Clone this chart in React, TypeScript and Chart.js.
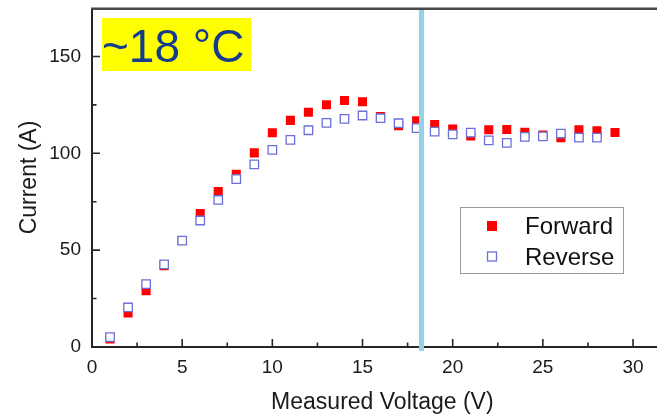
import React, { useEffect, useRef } from 'react';
import { Chart, registerables } from 'chart.js';

Chart.register(...registerables);

// ---- Data ----
const forwardVoltage = [1, 2, 3, 4, 5, 6, 7, 8, 9, 10, 11, 12, 13, 14, 15, 16, 17, 18, 19, 20, 21, 22, 23, 24, 25, 26, 27, 28, 29];
const forwardCurrent = [4.2, 17.6, 29.1, 42, 55, 68.9, 80.2, 89.2, 100.2, 110.6, 117, 121.2, 125.1, 127.3, 126.6, 119, 114.2, 116.8, 114.8, 112.5, 108.9, 112.1, 112.3, 110.8, 109.4, 108, 112.1, 111.6, 110.7];

const reverseVoltage = [1, 2, 3, 4, 5, 6, 7, 8, 9, 10, 11, 12, 13, 14, 15, 16, 17, 18, 19, 20, 21, 22, 23, 24, 25, 26, 27, 28];
const reverseCurrent = [5.1, 20.4, 32.5, 42.7, 54.9, 65.3, 75.9, 86.7, 94.3, 101.8, 106.9, 111.9, 115.7, 117.8, 119.5, 118.1, 115.5, 113, 111.2, 109.8, 110.7, 106.7, 105.4, 108.5, 108.7, 110.2, 108.1, 108.1];

const seriesNames = ['Forward', 'Reverse'];
const xTickValues = [0, 5, 10, 15, 20, 25, 30];
const yTickValues = [0, 50, 100, 150];
const markerVoltage = 18.27;
const annotationText = '~18 °C';
const xTitle = 'Measured Voltage (V)';
const yTitle = 'Current (A)';

const FONT = '"Liberation Sans", Arial, sans-serif';
const RED = '#ff0000';
const BLUE = '#6a70d8';
const AXIS = '#262626';

const decorPlugin = {
  id: 'decor',
  beforeDatasetsDraw(chart: any) {
    const { ctx, chartArea: ca, scales } = chart;
    const x = scales.x;
    const y = scales.y;
    ctx.save();
    // axes lines
    ctx.strokeStyle = AXIS;
    ctx.lineWidth = 2;
    ctx.beginPath();
    ctx.moveTo(ca.left, ca.top);
    ctx.lineTo(ca.left, ca.bottom + 1);
    ctx.moveTo(ca.left - 1, ca.bottom);
    ctx.lineTo(chart.width, ca.bottom);
    ctx.stroke();
    // top frame
    ctx.strokeStyle = '#474747';
    ctx.lineWidth = 2.5;
    ctx.beginPath();
    ctx.moveTo(ca.left - 1, ca.top + 0.7);
    ctx.lineTo(chart.width, ca.top + 0.7);
    ctx.stroke();
    // inward ticks
    ctx.strokeStyle = AXIS;
    ctx.lineWidth = 1.6;
    ctx.beginPath();
    for (let v = 2.5; v <= x.max; v += 2.5) {
      const px = x.getPixelForValue(v);
      const len = v % 5 === 0 ? 8 : 4.5;
      ctx.moveTo(px, ca.bottom);
      ctx.lineTo(px, ca.bottom - len);
    }
    for (let v = 25; v < y.max; v += 25) {
      const py = y.getPixelForValue(v);
      const len = v % 50 === 0 ? 8 : 4.5;
      ctx.moveTo(ca.left, py);
      ctx.lineTo(ca.left + len, py);
    }
    ctx.stroke();
    ctx.restore();
  },
  afterDatasetsDraw(chart: any) {
    const { ctx, chartArea: ca, scales } = chart;
    const x = scales.x;
    ctx.save();
    // vertical marker line
    const lx = x.getPixelForValue(markerVoltage);
    ctx.strokeStyle = '#93d2e8';
    ctx.lineWidth = 5;
    ctx.beginPath();
    ctx.moveTo(lx, ca.top + 2);
    ctx.lineTo(lx, ca.bottom + 4);
    ctx.stroke();

    // annotation box
    ctx.fillStyle = '#ffff00';
    ctx.fillRect(102, 18, 149, 53);
    ctx.fillStyle = '#143c8c';
    ctx.font = `46px ${FONT}`;
    ctx.textBaseline = 'alphabetic';
    ctx.textAlign = 'left';
    ctx.fillText(annotationText, 102, 62);

    // legend
    ctx.strokeStyle = '#9a9a9a';
    ctx.lineWidth = 1;
    ctx.fillStyle = '#ffffff';
    ctx.fillRect(460, 207, 163, 66);
    ctx.strokeRect(460.5, 207.5, 163, 66);
    ctx.fillStyle = RED;
    ctx.fillRect(487, 221, 10, 10);
    ctx.strokeStyle = BLUE;
    ctx.lineWidth = 1.3;
    ctx.strokeRect(487.5, 252, 9, 9);
    ctx.fillStyle = '#111111';
    ctx.font = `24px ${FONT}`;
    ctx.textBaseline = 'middle';
    ctx.fillText(seriesNames[0], 525, 227);
    ctx.fillText(seriesNames[1], 525, 258);
    ctx.restore();
  },
};

export default function App() {
  const ref = useRef<HTMLCanvasElement | null>(null);

  useEffect(() => {
    if (!ref.current) return;
    const chart = new Chart(ref.current, {
      type: 'scatter',
      data: {
        datasets: [
          {
            label: seriesNames[0],
            data: forwardVoltage.map((v, i) => ({ x: v, y: forwardCurrent[i] })),
            pointStyle: 'rect',
            pointRadius: 6.4,
            backgroundColor: RED,
            borderColor: RED,
            borderWidth: 0,
            order: 2,
          },
          {
            label: seriesNames[1],
            data: reverseVoltage.map((v, i) => ({ x: v, y: reverseCurrent[i] })),
            pointStyle: 'rect',
            pointRadius: 6.0,
            backgroundColor: '#ffffff',
            borderColor: BLUE,
            borderWidth: 1.3,
            order: 1,
          },
        ],
      },
      options: {
        responsive: false,
        animation: false,
        layout: { padding: { left: 0, top: 8, right: 7, bottom: 0 } },
        plugins: { legend: { display: false }, tooltip: { enabled: false } },
        scales: {
          x: {
            type: 'linear',
            min: 0,
            max: 32.2,
            afterFit: (s: any) => { s.height = 69; s.paddingLeft = 0; s.paddingRight = 0; },
            afterBuildTicks: (s: any) => { s.ticks = xTickValues.map((v) => ({ value: v })); },
            grid: { display: false, drawTicks: false },
            border: { display: false },
            ticks: {
              autoSkip: false,
              maxRotation: 0,
              padding: 9,
              color: '#1a1a1a',
              font: { family: FONT, size: 19 },
            },
            title: {
              display: true,
              text: xTitle,
              color: '#1a1a1a',
              font: { family: FONT, size: 23 },
              padding: { top: 0, bottom: 0 },
            },
          },
          y: {
            type: 'linear',
            min: 0,
            max: 175,
            afterFit: (s: any) => { s.width = 92; s.paddingTop = 0; s.paddingBottom = 0; },
            afterBuildTicks: (s: any) => { s.ticks = yTickValues.map((v) => ({ value: v })); },
            grid: { display: false, drawTicks: false },
            border: { display: false },
            ticks: {
              autoSkip: false,
              padding: 11,
              color: '#1a1a1a',
              font: { family: FONT, size: 19 },
            },
            title: {
              display: true,
              text: yTitle,
              color: '#1a1a1a',
              font: { family: FONT, size: 23 },
              padding: { top: 16, bottom: 0 },
            },
          },
        },
      },
      plugins: [decorPlugin],
    } as any);
    return () => chart.destroy();
  }, []);

  return (
    <div
      style={{
        position: 'fixed',
        left: 0,
        top: 0,
        width: 657,
        height: 416,
        overflow: 'hidden',
        background: '#ffffff',
      }}
    >
      <canvas ref={ref} width={680} height={416} style={{ display: 'block' }} />
    </div>
  );
}
